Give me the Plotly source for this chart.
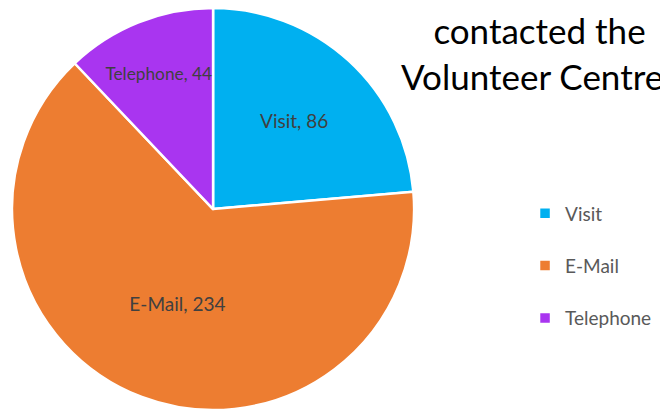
import plotly.graph_objects as go

# contact method counts
categories = ['Visit', 'E-Mail', 'Telephone']
counts = [86, 234, 44]
colours = ['#00B0F0', '#ED7D31', '#A935F0']

title_lines = ['contacted the', 'Volunteer Centre?']

fig = go.Figure()
fig.add_trace(go.Pie(
    # trailing blank line gives the legend entries the wide spacing of the original
    labels=[c + '<br> ' for c in categories],
    values=counts,
    text=categories,
    texttemplate='%{text}, %{value}',
    textposition='inside',
    insidetextorientation='horizontal',
    textfont=dict(family='Lato', size=19, color='#404040'),
    marker=dict(colors=colours, line=dict(color='white', width=2.5)),
    sort=False,
    direction='clockwise',
    rotation=0,
    domain=dict(x=[0.006, 0.608], y=[0.017, 1.0]),
    hoverinfo='text+value',
))

# title (partly cut off on the right in the original)
fig.add_annotation(text='<br>'.join(title_lines), x=0.795, y=0.889,
                   xref='paper', yref='paper', xanchor='center', yanchor='middle',
                   align='center', showarrow=False,
                   font=dict(family='Lato', size=35, color='black'))

fig.update_layout(
    width=668, height=409,
    margin=dict(l=0, r=0, t=0, b=0),
    paper_bgcolor='white',
    showlegend=True,
    legend=dict(x=0.774, y=0.339, xanchor='left', yanchor='middle', valign='top',
                font=dict(family='Lato', size=19, color='#595959'),
                itemwidth=30),
)

fig.write_html("out.html")
